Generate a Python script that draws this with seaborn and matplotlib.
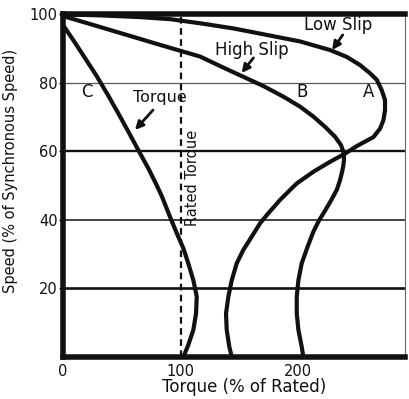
import matplotlib
matplotlib.use("Agg")
import matplotlib.pyplot as plt
import seaborn as sns

# Speed-torque curves of induction motors (torque in % of rated, speed in % of synchronous)
low_slip_torque = [0, 31.5, 65.5, 91, 116.6, 144.9, 173.4, 201.7, 227.2, 241.4, 252.8, 261.3,
                   267, 271.2, 274, 274, 272.6, 269.8, 264.1, 257, 250, 240, 227.2, 213,
                   198.9, 193.2, 184.7, 174.7, 167.7, 160.6, 153.4, 147.8, 143.6, 140.7,
                   138.7, 139.3, 141.5, 143.6]
low_slip_speed = [99.9, 99.6, 99.1, 98.5, 97.3, 95.8, 93.9, 92, 89.5, 87.5, 85.1, 82.7,
                  80.8, 77.8, 74.9, 71.9, 69, 66.6, 64.1, 62.8, 61.5, 59.3, 56.9, 54,
                  50.6, 48.7, 45.8, 41.9, 39, 35.1, 31.2, 27.3, 22.4, 17.6,
                  12.7, 7.9, 3.0, 0]

high_slip_torque = [0, 25.8, 54.2, 82.6, 116.6, 135, 153.4, 170.5, 187.5, 201.7, 213, 223,
                    231.5, 236.5, 238.8, 239.1, 238.4, 237.2, 235.5, 232.9, 228, 222.5, 217.5,
                    213, 208.5, 203.1, 200.3, 198.9, 198.9, 200.3, 203.1, 204.5]
high_slip_speed = [99.4, 96.8, 93.9, 91, 87.6, 84.6, 81.7, 79, 75.9, 73, 70.1, 67.1,
                   64.2, 61.8, 59.6, 57.4, 55.5, 53.6, 51.3, 48.7, 45.6, 42.4, 39.6,
                   36.5, 32.5, 27.3, 22.4, 17.6, 12.7, 7.9, 3.0, 0]

general_torque = [0, 9.5, 19, 28.5, 38, 47.1, 55.6, 64.1, 72.6, 79.7, 84.3, 91, 96.8,
                  102.4, 106.6, 110.9, 113.8, 113.2, 110.9, 106.6, 102.4]
general_speed = [96.8, 92, 87, 82, 76.5, 71, 65.7, 60.3, 55, 50.1, 46.7, 40.9, 36.1,
                 31.7, 27.3, 22.4, 17.6, 12.7, 7.9, 3.5, 0]

rated_torque = 100
grid_speeds = [80, 60, 40, 20]
x_ticks = [0, 100, 200]
y_ticks = [20, 40, 60, 80, 100]

sns.set_theme(style="white")
plt.rcParams["font.family"] = ["DejaVu Sans"]
ink = "#111111"

fig = plt.figure(figsize=(4.09, 3.99), dpi=100)
ax = fig.add_axes([63 / 409, 1 - 357 / 399, (405 - 63) / 409, (357 - 14) / 399])

# horizontal reference lines
grid_widths = [0.9, 1.7, 1.2, 1.9]
grid_colors = ["#555555", ink, "#222222", ink]
for yv, w, c in zip(grid_speeds, grid_widths, grid_colors):
    ax.axhline(yv, color=c, lw=w, zorder=1)

# rated torque line
ax.axvline(rated_torque, color=ink, lw=1.6, ls=(0, (3, 2)), zorder=2)

for tq, sp in [(low_slip_torque, low_slip_speed),
               (high_slip_torque, high_slip_speed),
               (general_torque, general_speed)]:
    sns.lineplot(x=tq, y=sp, sort=False, estimator=None, ax=ax,
                 color=ink, lw=3.0, zorder=3,
                 solid_joinstyle="round", solid_capstyle="round")

ax.set_xlim(0, 291)
ax.set_ylim(0, 100)
ax.set_xticks(x_ticks)
ax.set_yticks(y_ticks)
ax.set_xticklabels([str(v) for v in x_ticks])
ax.set_yticklabels([str(v) for v in y_ticks])
ax.tick_params(axis="x", length=0, pad=5, labelsize=10.5, colors=ink)
ax.tick_params(axis="y", length=3, width=1, pad=1, labelsize=10.5, colors=ink, left=True)

for side in ["left", "bottom", "top"]:
    ax.spines[side].set_linewidth(4)
    ax.spines[side].set_color(ink)
ax.spines["right"].set_linewidth(0.8)
ax.spines["right"].set_color("#666666")

ax.set_xlabel("Torque (% of Rated)", fontsize=12, color=ink)
ax.xaxis.set_label_coords(0.529, -0.062)
ax.set_ylabel("Speed (% of Synchronous Speed)", fontsize=10.5, color=ink)
ax.yaxis.set_label_coords(-0.132, 0.542)

# curve labels
ax.text(234, 96.8, "Low Slip", fontsize=12, ha="center", va="center", color=ink)
ax.text(161, 89.5, "High Slip", fontsize=12, ha="center", va="center", color=ink)
ax.text(82.6, 75.8, "Torque", fontsize=11.5, ha="center", va="center", color=ink)
ax.text(20.4, 77.3, "C", fontsize=12, ha="center", va="center", color=ink)
ax.text(203, 77.3, "B", fontsize=12, ha="center", va="center", color=ink)
ax.text(260, 77.3, "A", fontsize=12, ha="center", va="center", color=ink)
ax.text(110.6, 52.2, "Rated Torque", fontsize=10.5, rotation=90,
        ha="center", va="center", color=ink)

arrow = dict(arrowstyle="-|>", lw=2, color=ink, mutation_scale=12, shrinkA=0, shrinkB=0)
ax.annotate("", xy=(229, 89.5), xytext=(238, 93.9), arrowprops=arrow)
ax.annotate("", xy=(152, 82.8), xytext=(162, 87.2), arrowprops=arrow)
ax.annotate("", xy=(61.3, 66.2), xytext=(76.6, 72), arrowprops=arrow)

fig.savefig("out.png", dpi=100)
